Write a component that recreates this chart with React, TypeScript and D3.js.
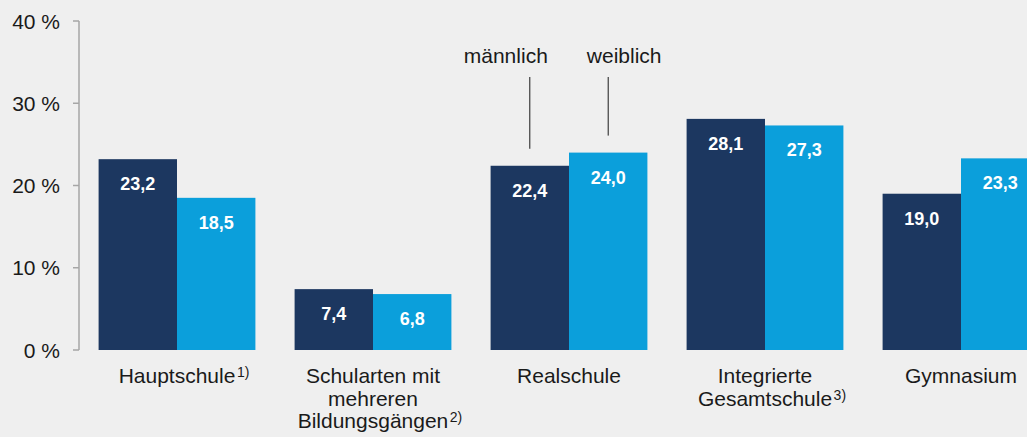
import { useEffect, useRef } from 'react';
import * as d3 from 'd3';

const categories = ['Hauptschule', 'Schularten', 'Realschule', 'Gesamtschule', 'Gymnasium'];
const labelLines = [
  ['Hauptschule'],
  ['Schularten mit', 'mehreren', 'Bildungsgängen'],
  ['Realschule'],
  ['Integrierte', 'Gesamtschule'],
  ['Gymnasium'],
];
const footnotes = ['1)', '2)', '', '3)', ''];
const maennlich = [23.2, 7.4, 22.4, 28.1, 19.0];
const weiblich = [18.5, 6.8, 24.0, 27.3, 23.3];
const seriesNames = ['männlich', 'weiblich'];
const yTicks = [0, 10, 20, 30, 40];

const W = 1027;
const H = 437;
const FONT = 'Liberation Sans, Arial, sans-serif';
const COLORS = ['#1c3760', '#0b9fdb'];

export default function App() {
  const svgRef = useRef<SVGSVGElement | null>(null);

  useEffect(() => {
    const svg = d3.select(svgRef.current);
    svg.selectAll('*').remove();

    svg.append('rect').attr('width', W).attr('height', H).attr('fill', '#efefef');

    const y = d3.scaleLinear().domain([0, 40]).range([350, 21]);
    const x = d3.scaleBand<string>().domain(categories).range([79, 1059])
      .paddingInner(0.2).paddingOuter(0.1);
    const sub = d3.scaleBand<number>().domain([0, 1]).range([0, x.bandwidth()]);

    // y axis
    const axis = svg.append('g');
    axis.append('line')
      .attr('x1', 79).attr('x2', 79)
      .attr('y1', y(40)).attr('y2', y(0))
      .attr('stroke', '#a6a6a6').attr('stroke-width', 1.5);
    yTicks.forEach(t => {
      axis.append('line')
        .attr('x1', 73).attr('x2', 79)
        .attr('y1', y(t)).attr('y2', y(t))
        .attr('stroke', '#a6a6a6').attr('stroke-width', 1.5);
      axis.append('text')
        .attr('x', 60).attr('y', y(t))
        .attr('dy', '0.36em')
        .attr('text-anchor', 'end')
        .style('font-family', FONT).style('font-size', '21px')
        .attr('fill', '#1a1a1a')
        .text(`${t} %`);
    });

    // bars
    const fmt = (v: number) => v.toFixed(1).replace('.', ',');
    [maennlich, weiblich].forEach((vals, si) => {
      vals.forEach((v, i) => {
        const bx = (x(categories[i]) as number) + (sub(si) as number);
        svg.append('rect')
          .attr('x', bx).attr('y', y(v))
          .attr('width', sub.bandwidth()).attr('height', y(0) - y(v))
          .attr('fill', COLORS[si]);
        svg.append('text')
          .attr('x', bx + sub.bandwidth() / 2).attr('y', y(v) + 31)
          .attr('text-anchor', 'middle')
          .style('font-family', FONT).style('font-size', '18px').style('font-weight', 'bold')
          .attr('fill', '#ffffff')
          .text(fmt(v));
      });
    });

    // category labels
    labelLines.forEach((lines, i) => {
      const cx = (x(categories[i]) as number) + x.bandwidth() / 2;
      lines.forEach((ln, li) => {
        const t = svg.append('text')
          .attr('x', cx).attr('y', 383 + li * 22.5)
          .attr('text-anchor', 'middle')
          .style('font-family', FONT).style('font-size', '21px')
          .attr('fill', '#1a1a1a')
          .text(ln);
        if (li === lines.length - 1 && footnotes[i]) {
          const w = (t.node() as SVGTextElement).getComputedTextLength();
          svg.append('text')
            .attr('x', cx + w / 2 + 1.5).attr('y', 383 + li * 22.5 - 6)
            .style('font-family', FONT).style('font-size', '14px')
            .attr('fill', '#1a1a1a')
            .text(footnotes[i]);
        }
      });
    });

    // legend annotation on Realschule
    const ri = 2;
    const offsets = [-24, 16];
    [maennlich, weiblich].forEach((vals, si) => {
      const cx = (x(categories[ri]) as number) + (sub(si) as number) + sub.bandwidth() / 2;
      svg.append('line')
        .attr('x1', cx).attr('x2', cx)
        .attr('y1', 77).attr('y2', y(vals[ri]) - 17)
        .attr('stroke', '#1a1a1a').attr('stroke-width', 1);
      svg.append('text')
        .attr('x', cx + offsets[si]).attr('y', 63)
        .attr('text-anchor', 'middle')
        .style('font-family', FONT).style('font-size', '21px')
        .attr('fill', '#1a1a1a')
        .text(seriesNames[si]);
    });
  }, []);

  return (
    <svg ref={svgRef} width={W} height={H}
      style={{ position: 'absolute', left: 0, top: 0, display: 'block' }} />
  );
}
